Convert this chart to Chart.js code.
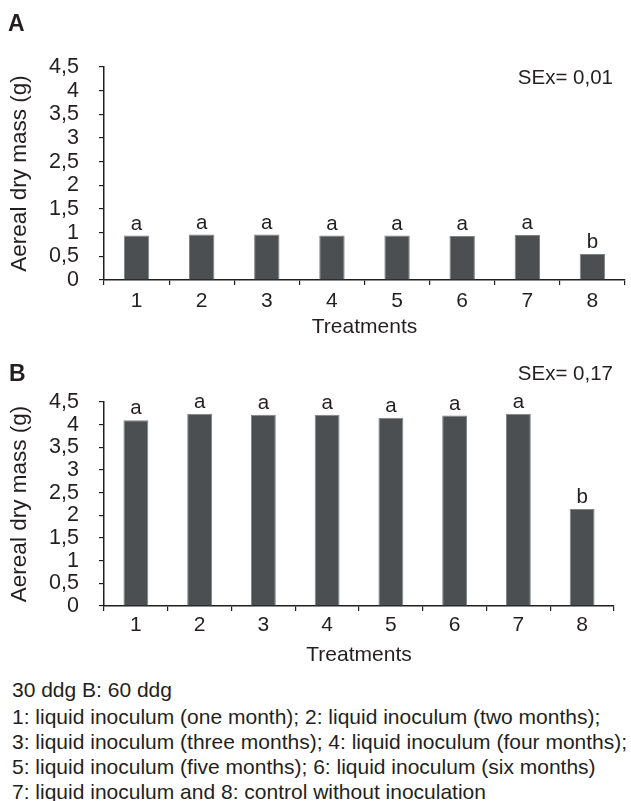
<!DOCTYPE html>
<html>
<head>
<meta charset="utf-8">
<title>Aereal dry mass by treatment</title>
<script src="https://cdn.jsdelivr.net/npm/chart.js@4/dist/chart.umd.min.js"></script>
<style>
  html, body { margin: 0; padding: 0; background: #ffffff; }
  body {
    width: 631px; height: 801px; position: relative; overflow: hidden;
    font-family: "Liberation Sans", Arial, Helvetica, sans-serif; color: #231f20;
  }
  .panel { position: absolute; left: 0; width: 631px; }
  .tag { position: absolute; font-weight: bold; font-size: 23px; line-height: 1; }
  .sex { position: absolute; font-size: 20.5px; line-height: 1; white-space: nowrap; }
  .cap { position: absolute; left: 12px; font-size: 21px; line-height: 25px; white-space: nowrap; }
</style>
</head>
<body>
<div class="panel" style="top:0;height:340px"><canvas id="chartA"></canvas></div>
<div class="panel" style="top:340px;height:330px"><canvas id="chartB"></canvas></div>

<div class="tag" style="left:8px;top:12px">A</div>
<div class="tag" style="left:9px;top:362px">B</div>
<div class="sex" id="sexA" style="right:18px;top:67px"></div>
<div class="sex" id="sexB" style="right:18px;top:363px"></div>

<div class="cap" style="top:677px">30 ddg B: 60 ddg</div>
<div class="cap" style="top:704px">1: liquid inoculum (one month); 2: liquid inoculum (two months);</div>
<div class="cap" style="top:729px">3: liquid inoculum (three months); 4: liquid inoculum (four months);</div>
<div class="cap" style="top:754px">5: liquid inoculum (five months); 6: liquid inoculum (six months)</div>
<div class="cap" style="top:779px">7: liquid inoculum and 8: control without inoculation</div>

<script>
// Treatments on the x axis
const treatments = ['1', '2', '3', '4', '5', '6', '7', '8'];

// Aereal dry mass (g), panel A (30 ddg) and panel B (60 ddg)
const massA = [0.94, 0.96, 0.96, 0.94, 0.94, 0.93, 0.95, 0.55];
const massB = [4.10, 4.24, 4.22, 4.22, 4.15, 4.20, 4.24, 2.14];

// Mean separation letters above each bar
const lettersA = ['a', 'a', 'a', 'a', 'a', 'a', 'a', 'b'];
const lettersB = ['a', 'a', 'a', 'a', 'a', 'a', 'a', 'b'];

// Standard error shown in each panel
const seA = '0,01';
const seB = '0,17';

// Y axis tick values
const yTicks = [0, 0.5, 1, 1.5, 2, 2.5, 3, 3.5, 4, 4.5];

document.getElementById('sexA').textContent = 'SEx= ' + seA;
document.getElementById('sexB').textContent = 'SEx= ' + seB;

const FONT = '"Liberation Sans", Arial, Helvetica, sans-serif';
const INK = '#231f20';
const AXIS = '#1f1f1f';

// Draws the significance letter above every bar
const letterPlugin = {
  id: 'groupLetters',
  afterDatasetsDraw(chart, args, opts) {
    const meta = chart.getDatasetMeta(0);
    const ctx = chart.ctx;
    ctx.save();
    ctx.font = '20.5px ' + FONT;
    ctx.fillStyle = INK;
    ctx.textAlign = 'center';
    ctx.textBaseline = 'alphabetic';
    meta.data.forEach((bar, i) => {
      ctx.fillText(opts.letters[i], bar.x, bar.y - 6);
    });
    ctx.restore();
  }
};

function makeChart(id, values, letters, g) {
  return new Chart(document.getElementById(id), {
    type: 'bar',
    data: {
      labels: treatments,
      datasets: [{
        data: values,
        backgroundColor: '#4b4f51',
        borderColor: '#7f8284',
        borderWidth: 1,
        barPercentage: 0.39,
        categoryPercentage: 1
      }]
    },
    plugins: [letterPlugin],
    options: {
      responsive: true,
      maintainAspectRatio: false,
      animation: false,
      events: [],
      layout: { padding: { top: g.top, right: g.right, bottom: 0, left: 0 } },
      plugins: {
        legend: { display: false },
        tooltip: { enabled: false },
        groupLetters: { letters: letters }
      },
      scales: {
        x: {
          offset: true,
          afterFit: s => { s.height = g.xHeight; },
          border: { display: true, color: AXIS, width: 1.5 },
          grid: { offset: true, drawOnChartArea: false, drawTicks: true, tickLength: 5, color: AXIS, lineWidth: 1.2 },
          ticks: { color: INK, font: { family: FONT, size: 21 }, padding: g.tickPad, maxRotation: 0, autoSkip: false },
          title: { display: true, text: 'Treatments', color: INK, font: { family: FONT, size: 21 }, padding: { top: 0, bottom: g.titlePad } }
        },
        y: {
          min: 0,
          max: 4.5,
          afterFit: s => { s.width = 104; },
          afterBuildTicks: s => { s.ticks = yTicks.map(v => ({ value: v })); },
          border: { display: true, color: AXIS, width: 1.5 },
          grid: { drawOnChartArea: false, drawTicks: true, tickLength: 5, color: AXIS, lineWidth: 1.2 },
          ticks: {
            color: INK,
            font: { family: FONT, size: 21.5 },
            padding: 20,
            autoSkip: false,
            callback: v => String(v).replace('.', ',')
          },
          title: { display: true, text: 'Aereal dry mass (g)', color: INK, font: { family: FONT, size: 22.5 }, padding: { top: 6, bottom: 0 } }
        }
      }
    }
  });
}

makeChart('chartA', massA, lettersA, { top: 67, right: 6, xHeight: 60, tickPad: 3.5, titlePad: 0 });
makeChart('chartB', massB, lettersB, { top: 62, right: 17, xHeight: 64, tickPad: 1.5, titlePad: 2 });
</script>
</body>
</html>
